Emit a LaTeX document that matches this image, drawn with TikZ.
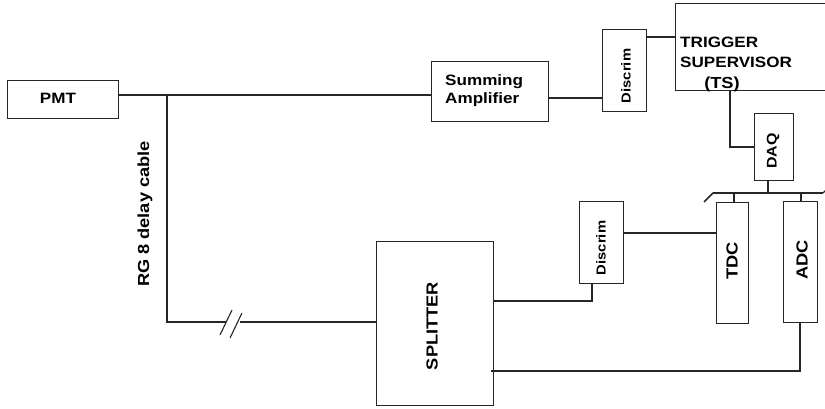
\documentclass[tikz,border=0pt]{standalone}
\usepackage{fontspec}
\setmainfont{Liberation Sans}
\newfontfamily\wfont[FakeStretch=1.14]{Liberation Sans}
\begin{document}
\begin{tikzpicture}[x=1pt,y=-1pt,
  wire/.style={draw=black!85, line width=1.1pt},
  box/.style={draw=black!85, line width=1.1pt, fill=white, inner sep=0pt, anchor=north west},
  lbl/.style={font=\wfont\bfseries\fontsize{#1}{#1}\selectfont, inner sep=0pt, text=black},
  lbl/.default=15,
  rlbl/.style={lbl=#1, rotate=90},
  rlbl/.default=15]
\useasboundingbox (0,0) rectangle (825,409);
\clip (0,0) rectangle (825,409);
% boxes
\node[box, minimum width=111pt, minimum height=38pt] (pmt) at (7,80) {};
\node[box, minimum width=117pt, minimum height=60pt] (sa) at (431,61) {};
\node[box, minimum width=44pt, minimum height=82pt] (d1) at (602,29) {};
\node[box, minimum width=160pt, minimum height=87pt] (ts) at (675,3) {};
\node[box, minimum width=39pt, minimum height=67pt] (daq) at (754,113) {};
\node[box, minimum width=32pt, minimum height=121pt] (tdc) at (716,202) {};
\node[box, minimum width=34pt, minimum height=121pt] (adc) at (783,201) {};
\node[box, minimum width=44pt, minimum height=82pt] (d2) at (579,201) {};
\node[box, minimum width=117pt, minimum height=164pt] (sp) at (376,241) {};
% labels
\node[lbl=15] (tpmt) at (58,98) {PMT};
\node[lbl=15, align=left, anchor=west] (tsa) at (445,91) {Summing\\[3pt]Amplifier};
\node[lbl=15, align=left, anchor=west] (tts) at (680,52) {TRIGGER\\[5pt]SUPERVISOR};
\node[lbl=16] (ttsab) at (722,84) {(TS)};
\node[rlbl=13] (td1) at (626,76) {Discrim};
\node[rlbl=13] (td2) at (601,248) {Discrim};
\node[rlbl=14] (tdaq) at (773,151) {DAQ};
\node[rlbl=16] (ttdc) at (732,261) {TDC};
\node[rlbl=16] (tadc) at (802,260) {ADC};
\node[rlbl=16] (tsp) at (432,326) {SPLITTER};
\node[rlbl=16] (tcab) at (145,214) {RG 8 delay cable};
% junction coordinates
\coordinate (j1) at (167,95);
\coordinate (j2) at (167,322);
\coordinate (tsd) at (730,90);
\coordinate (tsq) at (730,147);
\coordinate (busL) at (713,193);
\coordinate (busR) at (823,193);
\coordinate (busD) at (768,193);
\coordinate (busT) at (734,193);
\coordinate (busA) at (801,193);
\coordinate (s1) at (493,301);
\coordinate (s1b) at (592,301);
\coordinate (s2) at (491,371);
\coordinate (s2b) at (800,371);
% wires
\draw[wire] (pmt.east |- j1) -- (j1) -- (sa.west |- j1);
\draw[wire] (j1) -- (j2) -- (sp.west |- j2);
\draw[wire] (sa.east |- 0,98) -- (d1.west |- 0,98);
\draw[wire] (d1.east |- 0,37) -- (ts.west |- 0,37);
\draw[wire] (tsd) -- (tsq) -- (daq.west |- tsq);
\draw[wire] (daq.south -| busD) -- (busD);
\draw[wire] (busL) -- (busR);
\draw[wire] (busT) -- (tdc.north -| busT);
\draw[wire] (busA) -- (adc.north -| busA);
\draw[wire, line width=1.6pt] (busL) -- ++(-9,9);
\draw[wire] (busR) -- ++(3,-3);
\draw[wire] (d2.east |- 0,233) -- (tdc.west |- 0,233);
\draw[wire] (s1) -- (s1b) -- (d2.south -| s1b);
\draw[wire] (s2) -- (s2b) -- (adc.south -| s2b);
% double slash on cable
\fill[white] (226,318) rectangle (240,326);
\draw[wire] (220,335) -- (232,310);
\draw[wire] (230,338) -- (242,313);
\end{tikzpicture}
\end{document}
